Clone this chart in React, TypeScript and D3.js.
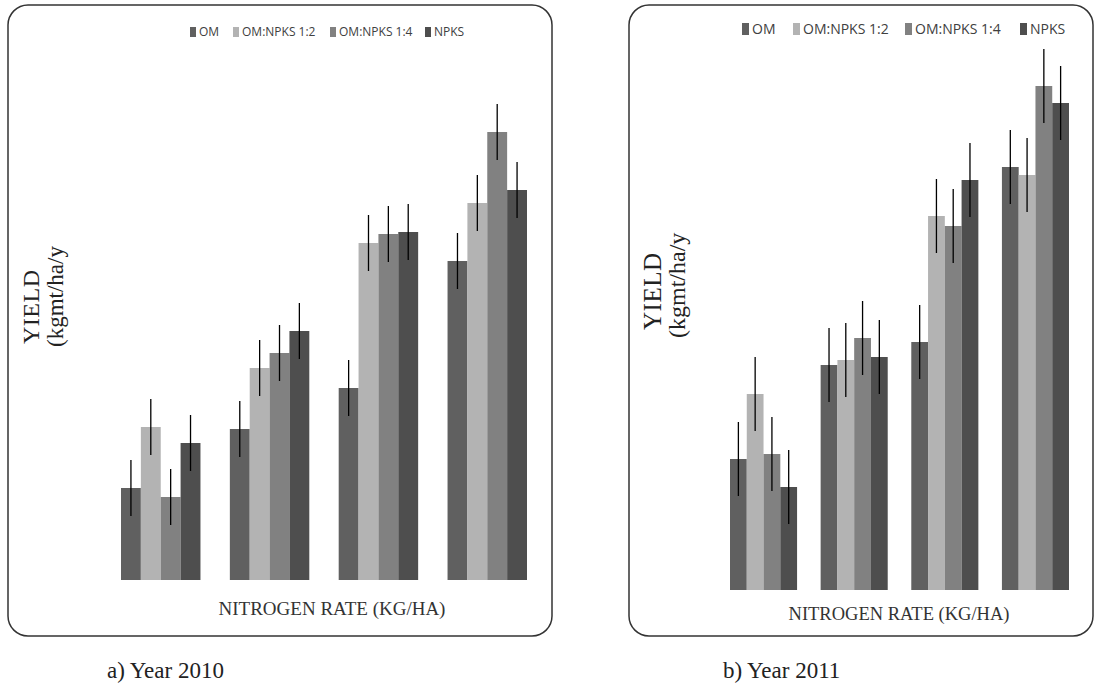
import React from "react";
import * as d3 from "d3";

const groups = ["N1", "N2", "N3", "N4"];
const seriesNames = ["OM", "OM:NPKS 1:2", "OM:NPKS 1:4", "NPKS"];
const seriesColors = ["#606060", "#b3b3b3", "#818181", "#4e4e4e"];

// Year 2010 yields (arbitrary units) per series across groups
const y2010OM = [92, 151, 192, 319];
const y2010R12 = [153, 212, 337, 377];
const y2010R14 = [83, 227, 346, 448];
const y2010NPKS = [137, 249, 348, 390];
const y2010Err = [28, 28, 28, 28];

const y2011OM = [131, 225, 248, 423];
const y2011R12 = [196, 230, 374, 415];
const y2011R14 = [136, 252, 364, 504];
const y2011NPKS = [103, 233, 410, 487];
const y2011Err = [37, 37, 37, 37];

type PanelCfg = {
  box: [number, number, number, number];
  plotX: [number, number];
  base: number;
  yMax: number;
  yTop: number;
  padInner: number;
  series: number[][];
  err: number[];
  legendX: number[];
  legendY: number;
  legendFont: number;
  legendSw: number;
  legendSh: number;
  yLab1X: number;
  yLab1Y: number;
  yLab2X: number;
  yLab2Y: number;
  yFont: number;
  xLabelX: number;
  xLabelY: number;
  xFont: number;
  caption: string;
  captionX: number;
};

const panels: PanelCfg[] = [
  {
    box: [8, 5, 552, 636],
    plotX: [121, 527],
    base: 580,
    yMax: 500,
    yTop: 80,
    padInner: 0.27,
    series: [y2010OM, y2010R12, y2010R14, y2010NPKS],
    err: y2010Err,
    legendX: [190, 233, 330, 425],
    legendY: 32,
    legendFont: 12,
    legendSw: 6,
    legendSh: 10,
    yLab1X: 39,
    yLab1Y: 344,
    yLab2X: 63,
    yLab2Y: 347,
    yFont: 23,
    xLabelX: 332,
    xLabelY: 615,
    xFont: 19,
    caption: "a) Year 2010",
    captionX: 107,
  },
  {
    box: [629, 5, 1093, 636],
    plotX: [730, 1069],
    base: 590,
    yMax: 540,
    yTop: 50,
    padInner: 0.26,
    series: [y2011OM, y2011R12, y2011R14, y2011NPKS],
    err: y2011Err,
    legendX: [742, 793, 905, 1020],
    legendY: 29,
    legendFont: 14,
    legendSw: 7,
    legendSh: 12,
    yLab1X: 661,
    yLab1Y: 330,
    yLab2X: 685,
    yLab2Y: 338,
    yFont: 24,
    xLabelX: 899,
    xLabelY: 620,
    xFont: 18.5,
    caption: "b) Year 2011",
    captionX: 723,
  },
];

function Panel({ cfg }: { cfg: PanelCfg }) {
  const x0 = d3
    .scaleBand<string>()
    .domain(groups)
    .range(cfg.plotX)
    .paddingInner(cfg.padInner)
    .paddingOuter(0);
  const x1 = d3
    .scaleBand<string>()
    .domain(seriesNames)
    .range([0, x0.bandwidth()])
    .padding(0);
  const y = d3.scaleLinear().domain([0, cfg.yMax]).range([cfg.base, cfg.yTop]);
  const [bx0, by0, bx1, by1] = cfg.box;
  const serif = "'Liberation Serif', 'Times New Roman', serif";
  return (
    <g>
      <rect
        x={bx0}
        y={by0}
        width={bx1 - bx0}
        height={by1 - by0}
        rx={20}
        ry={20}
        fill="#ffffff"
        stroke="#333333"
        strokeWidth={1.5}
      />
      {seriesNames.map((s, si) => (
        <g key={s} transform={`translate(${cfg.legendX[si]},${cfg.legendY})`}>
          <rect
            x={0}
            y={-cfg.legendSh / 2}
            width={cfg.legendSw}
            height={cfg.legendSh}
            fill={seriesColors[si]}
          />
          <text
            x={cfg.legendSw + 3}
            y={cfg.legendFont * 0.36}
            fontFamily="'Open Sans', sans-serif"
            fontSize={cfg.legendFont}
            fill="#404040"
          >
            {s}
          </text>
        </g>
      ))}
      {groups.map((g, gi) => (
        <g key={g} transform={`translate(${x0(g)},0)`}>
          {seriesNames.map((s, si) => {
            const v = cfg.series[si][gi];
            const bx = x1(s)!;
            const cx = bx + x1.bandwidth() / 2;
            return (
              <g key={s}>
                <rect
                  x={bx}
                  y={y(v)}
                  width={x1.bandwidth()}
                  height={cfg.base - y(v)}
                  fill={seriesColors[si]}
                />
                <line
                  x1={cx}
                  x2={cx}
                  y1={y(v + cfg.err[gi])}
                  y2={y(v - cfg.err[gi])}
                  stroke="#000"
                  strokeWidth={1.3}
                />
              </g>
            );
          })}
        </g>
      ))}
      <text
        transform={`translate(${cfg.yLab1X},${cfg.yLab1Y}) rotate(-90)`}
        fontFamily={serif}
        fontSize={cfg.yFont + 1}
        letterSpacing={0.5}
        fill="#222"
      >
        YIELD
      </text>
      <text
        transform={`translate(${cfg.yLab2X},${cfg.yLab2Y}) rotate(-90)`}
        fontFamily={serif}
        fontSize={cfg.yFont}
        fill="#222"
      >
        (kgmt/ha/y
      </text>
      <text
        x={cfg.xLabelX}
        y={cfg.xLabelY}
        textAnchor="middle"
        fontFamily={serif}
        fontSize={cfg.xFont}
        fill="#333"
      >
        NITROGEN RATE (KG/HA)
      </text>
      <text
        x={cfg.captionX}
        y={678}
        fontFamily={serif}
        fontSize={23}
        fill="#222"
      >
        {cfg.caption}
      </text>
    </g>
  );
}

export default function App() {
  return (
    <svg
      width={1100}
      height={690}
      style={{ position: "absolute", left: 0, top: 0, background: "#fff" }}
    >
      {panels.map((p, i) => (
        <Panel key={i} cfg={p} />
      ))}
    </svg>
  );
}
